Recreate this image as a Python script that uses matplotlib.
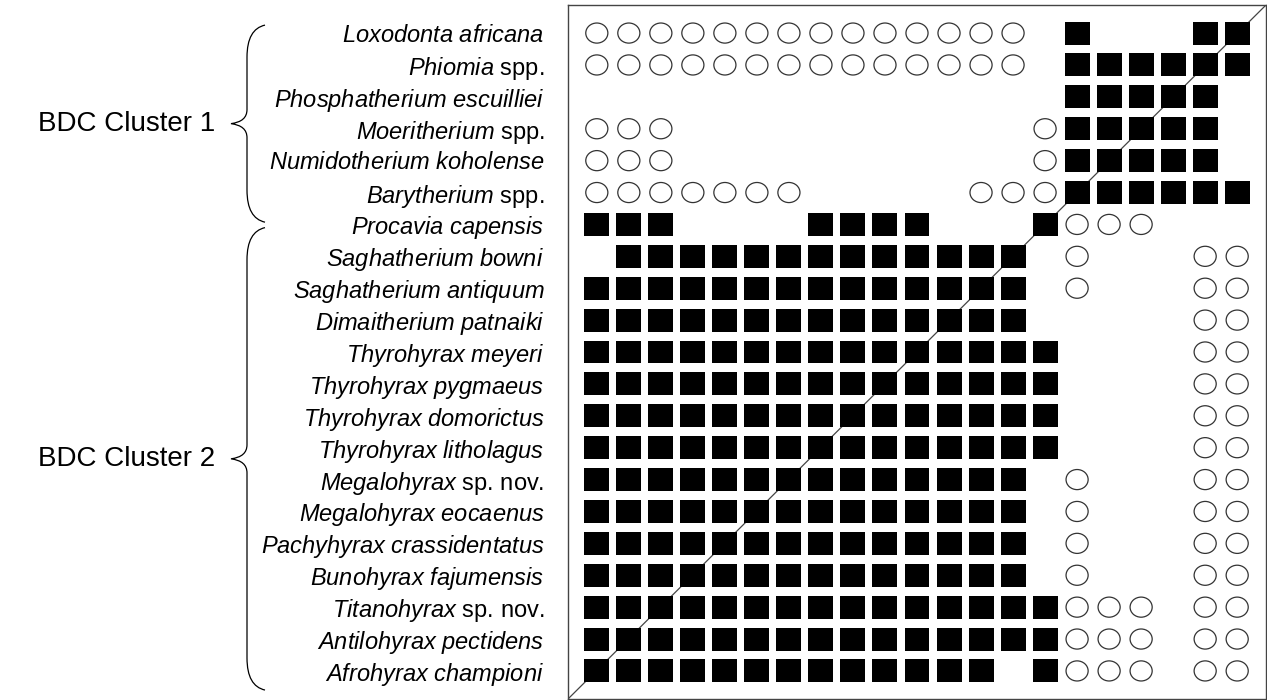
import matplotlib as mpl
import matplotlib.pyplot as plt
from matplotlib.patches import Rectangle, Ellipse, PathPatch
from matplotlib.path import Path

mpl.use('Agg')

plt.rcParams['font.family'] = ['Liberation Sans', 'DejaVu Sans']
plt.rcParams['mathtext.fontset'] = 'custom'
plt.rcParams['mathtext.rm'] = 'Liberation Sans'
plt.rcParams['mathtext.it'] = 'Liberation Sans:italic'

# taxon name: italic part, plain suffix
taxa_italic = [
    "Loxodonta africana", "Phiomia", "Phosphatherium escuilliei", "Moeritherium",
    "Numidotherium koholense", "Barytherium", "Procavia capensis", "Saghatherium bowni",
    "Saghatherium antiquum", "Dimaitherium patnaiki", "Thyrohyrax meyeri",
    "Thyrohyrax pygmaeus", "Thyrohyrax domorictus", "Thyrohyrax litholagus",
    "Megalohyrax", "Megalohyrax eocaenus", "Pachyhyrax crassidentatus",
    "Bunohyrax fajumensis", "Titanohyrax", "Antilohyrax pectidens", "Afrohyrax championi",
]
taxa_suffix = [
    "", " spp.", "", " spp.", "", " spp.", "", "", "", "", "", "", "", "",
    " sp. nov.", "", "", "", " sp. nov.", "", "",
]

# S = filled square, O = open circle, . = empty
cells = [
    "OOOOOOOOOOOOOO.S...SS",
    "OOOOOOOOOOOOOO.SSSSSS",
    "...............SSSSS.",
    "OOO...........OSSSSS.",
    "OOO...........OSSSSS.",
    "OOOOOOO.....OOOSSSSSS",
    "SSS....SSSS...SOOO...",
    ".SSSSSSSSSSSSS.O...OO",
    "SSSSSSSSSSSSSS.O...OO",
    "SSSSSSSSSSSSSS.....OO",
    "SSSSSSSSSSSSSSS....OO",
    "SSSSSSSSSSSSSSS....OO",
    "SSSSSSSSSSSSSSS....OO",
    "SSSSSSSSSSSSSSS....OO",
    "SSSSSSSSSSSSSS.O...OO",
    "SSSSSSSSSSSSSS.O...OO",
    "SSSSSSSSSSSSSS.O...OO",
    "SSSSSSSSSSSSSS.O...OO",
    "SSSSSSSSSSSSSSSOOO.OO",
    "SSSSSSSSSSSSSSSOOO.OO",
    "SSSSSSSSSSSSS.SOOO.OO",
]

clusters = ["BDC Cluster 1", "BDC Cluster 2"]
cluster_rows = [(0, 5), (6, 20)]

W, H = 1267, 700
fig = plt.figure(figsize=(W / 100, H / 100), dpi=100)

# matrix axes
ax = fig.add_axes([568 / W, 1 / H, 698 / W, 694 / H])
n = len(cells)
ax.set_xlim(-0.9, n - 0.1)
ax.set_ylim(n - 0.12, -0.88)
for s in ax.spines.values():
    s.set_color('#444444')
    s.set_linewidth(1.0)
ax.set_xticks([])

labels = []
for it, suf in zip(taxa_italic, taxa_suffix):
    labels.append(r"$\mathit{" + it.replace(" ", r"\ ") + "}$" + suf)
ax.set_yticks(range(n))
ax.set_yticklabels(labels, fontsize=17)
ax.tick_params(axis='y', length=0, pad=17)

# diagonal
ax.plot([0, 1], [0, 1], transform=ax.transAxes, color='#444444', lw=0.9, zorder=1)

sq_w, sq_h = 0.78, 0.72
ci_w, ci_h = 0.69, 0.63
for r, row in enumerate(cells):
    for c, v in enumerate(row):
        if v == 'S':
            ax.add_patch(Rectangle((c - sq_w / 2, r - sq_h / 2), sq_w, sq_h,
                                   facecolor='black', edgecolor='none', zorder=2))
        elif v == 'O':
            ax.add_patch(Ellipse((c, r), ci_w, ci_h, facecolor='white',
                                 edgecolor='#333333', lw=0.9, zorder=2))

# overlay for braces and cluster names (pixel coords)
ov = fig.add_axes([0, 0, 1, 1])
ov.set_xlim(0, W)
ov.set_ylim(H, 0)
ov.axis('off')


def brace(y0, y1, xe=265, xs=247, xt=231, r_end=32, r_tip=14):
    ym = (y0 + y1) / 2
    verts = [(xe, y0), (xs, y0 + 4), (xs, y0 + r_end),
             (xs, ym - r_tip),
             (xs, ym - 2), (xt, ym),
             (xs, ym + 2), (xs, ym + r_tip),
             (xs, y1 - r_end),
             (xs, y1 - 4), (xe, y1)]
    codes = [Path.MOVETO, Path.CURVE3, Path.CURVE3,
             Path.LINETO,
             Path.CURVE3, Path.CURVE3,
             Path.CURVE3, Path.CURVE3,
             Path.LINETO,
             Path.CURVE3, Path.CURVE3]
    ov.add_patch(PathPatch(Path(verts, codes), facecolor='none', edgecolor='black', lw=0.9))
    return ym


# brace extents follow the row positions of the matrix axes
to_px = lambda yd: H - ax.transData.transform((0, yd))[1]
brace_pad = [(-0.25, 0.93), (0.1, 0.6)]
for name, (ra, rb), (pa, pb) in zip(clusters, cluster_rows, brace_pad):
    ym = brace(to_px(ra + pa), to_px(rb + pb))
    ov.text(215, ym, name, ha='right', va='center', fontsize=20)

fig.savefig('out.png', dpi=100)
